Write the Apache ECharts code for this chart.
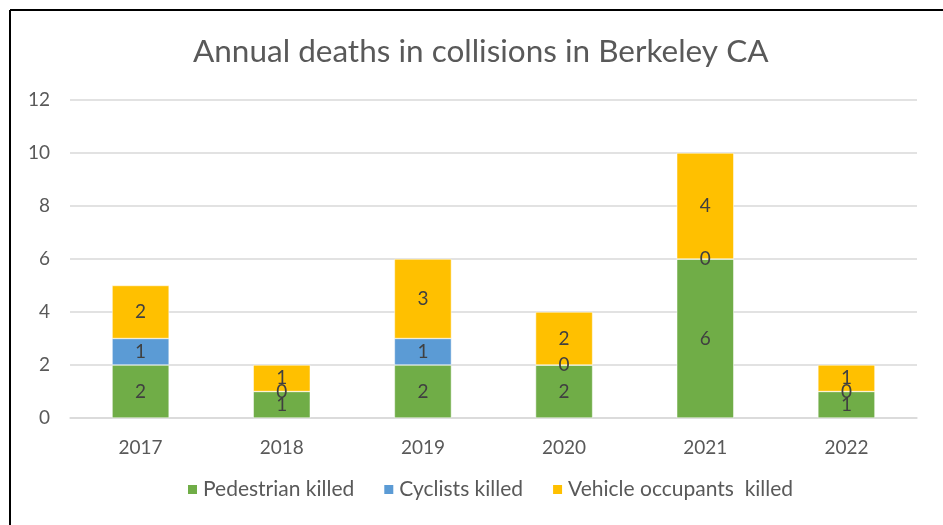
<!DOCTYPE html>
<html>
<head>
<meta charset="utf-8">
<script src="https://cdn.jsdelivr.net/npm/echarts@6/dist/echarts.min.js"></script>
<style>
html,body{margin:0;padding:0;background:#fff;}
#c{width:943px;height:525px;}
</style>
</head>
<body>
<div id="c"></div>
<script>
const categories = ['2017','2018','2019','2020','2021','2022'];
const pedestrians = [2,1,2,2,6,1];
const cyclists = [1,0,1,0,0,0];
const vehicles = [2,1,3,2,4,1];
const yTicks = [0,2,4,6,8,10,12];

const chart = echarts.init(document.getElementById('c'), null, {renderer:'canvas'});
const font = 'Lato, "Open Sans", sans-serif';
const lbl = {show:true, position:'inside', color:'#404040', fontSize:19, fontFamily:font};
function mk(name, data, color){
  return {name, type:'bar', stack:'t', data, barWidth:57,
    itemStyle:{color, borderColor:'#ffffff', borderWidth:0.5},
    label:lbl, emphasis:{disabled:true}};
}
chart.setOption({
  animation:false,
  backgroundColor:'#fff',
  title:{text:'Annual deaths in collisions in Berkeley CA', left:188, top:31,
    textStyle:{color:'#595959', fontSize:31.5, fontWeight:'normal', fontFamily:font}},
  legend:{bottom:20, left:181, itemWidth:11, itemHeight:11, itemGap:28,
    icon:'rect', textStyle:{color:'#595959', fontSize:21, fontFamily:font},
    data:['Pedestrian killed','Cyclists killed','Vehicle occupants  killed']},
  grid:{left:70, right:26, top:100, bottom:107, containLabel:false},
  xAxis:{type:'category', data:categories,
    axisLine:{show:true, lineStyle:{color:'#D9D9D9', width:1.5}},
    axisTick:{show:false},
    axisLabel:{color:'#595959', fontSize:19, fontFamily:font, margin:20}},
  yAxis:{type:'value', min:0, max:12, interval:2,
    axisLine:{show:false}, axisTick:{show:false},
    axisLabel:{color:'#595959', fontSize:19, fontFamily:font, margin:20,
      formatter: v => yTicks.includes(v) ? String(v) : ''},
    splitLine:{lineStyle:{color:'#D9D9D9', width:1.5}}},
  series:[
    mk('Pedestrian killed', pedestrians, '#70AD47'),
    mk('Cyclists killed', cyclists, '#5B9BD5'),
    mk('Vehicle occupants  killed', vehicles, '#FFC000')
  ],
  graphic:[
    {type:'line', shape:{x1:10, y1:10, x2:943, y2:10}, style:{stroke:'#000', lineWidth:2}},
    {type:'line', shape:{x1:10, y1:10, x2:10, y2:525}, style:{stroke:'#000', lineWidth:2}}
  ]
});
</script>
</body>
</html>
